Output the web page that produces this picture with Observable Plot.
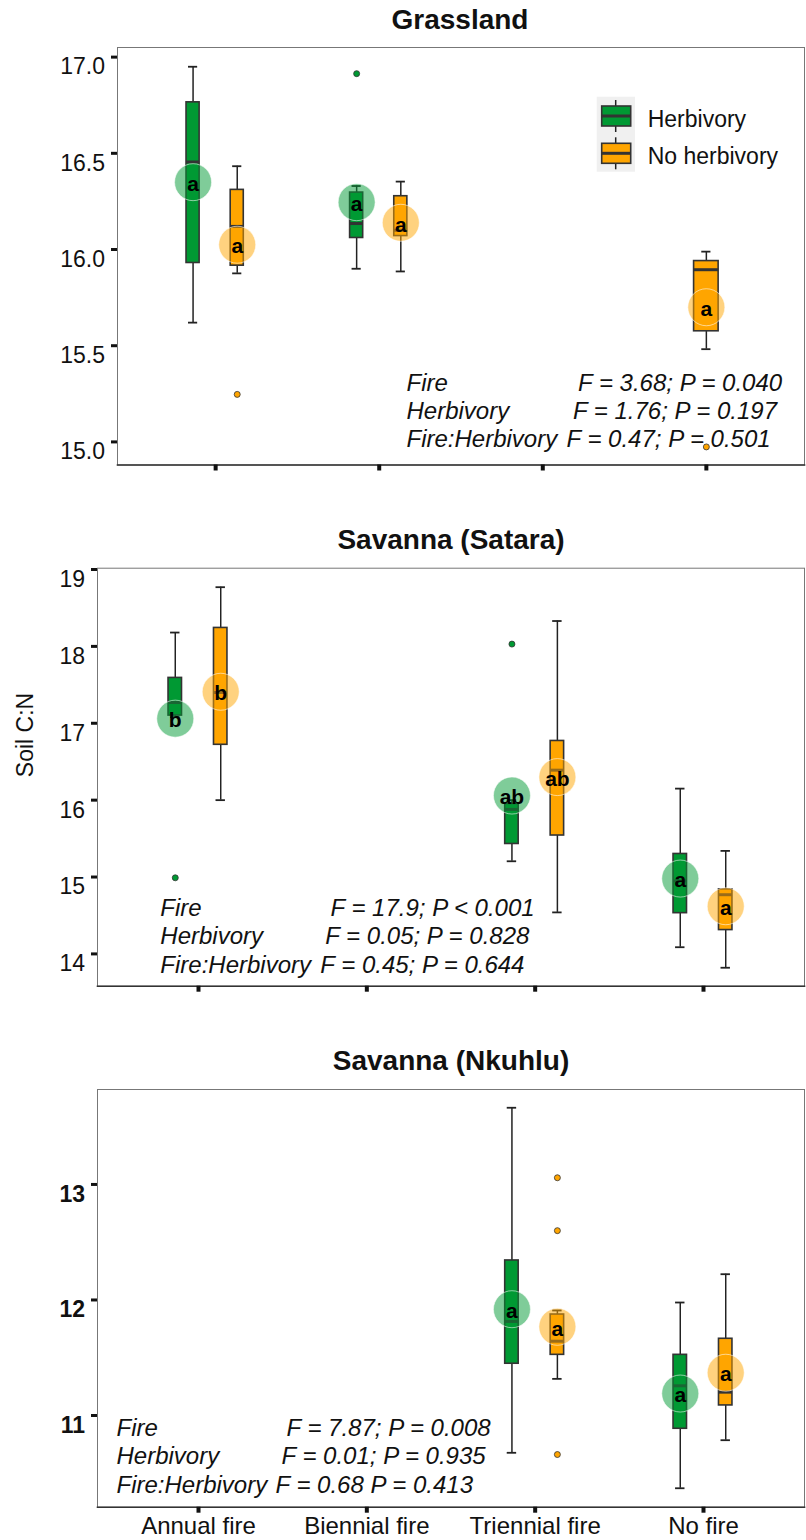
<!DOCTYPE html>
<html>
<head>
<meta charset="utf-8">
<script src="https://cdn.jsdelivr.net/npm/d3@7"></script>
<script src="https://cdn.jsdelivr.net/npm/@observablehq/plot@0.6"></script>
<style>
  html, body { margin: 0; padding: 0; background: #fff; }
  #page { position: relative; width: 806px; height: 1540px; overflow: hidden;
          font-family: "Liberation Sans", Arial, sans-serif; color: #111; }
  .panel { position: absolute; left: 0; }
  .title { position: absolute; transform: translateX(-50%); white-space: nowrap;
           font-size: 28px; line-height: 28px; font-weight: bold; color: #111; }
  #legend { position: absolute; left: 590px; top: 90px; }
</style>
</head>
<body>
<div id="page"></div>
<script>
// Treatment levels and fill colours
const fireLevels = ["Annual fire", "Biennial fire", "Triennial fire", "No fire"];
const herbLevels = ["Herbivory", "No herbivory"];
const herbColors = ["#009933", "#FFA500"];

// Box summaries: fire, herbivory, lower whisker, Q1, median, Q3, upper whisker, mean, letter
const grasslandBoxes = [
  ["Annual fire",   "Herbivory",    15.62, 15.93, 16.455, 16.765, 16.95, 16.35, "a"],
  ["Annual fire",   "No herbivory", 15.876, 15.916, 16.12, 16.31, 16.433, 16.025, "a"],
  ["Biennial fire", "Herbivory",    15.90, 16.06, 16.135, 16.296, 16.33, 16.246, "a"],
  ["Biennial fire", "No herbivory", 15.886, 16.07, 16.10, 16.277, 16.353, 16.139, "a"],
  ["No fire",       "No herbivory", 15.482, 15.575, 15.895, 15.94, 15.989, 15.70, "a"]
];
const grasslandOutliers = [
  ["Annual fire", "No herbivory", 15.247],
  ["Biennial fire", "Herbivory", 16.914],
  ["No fire", "No herbivory", 14.974]
];
const grasslandAnova = ["F = 3.68; P = 0.040", "F = 1.76; P = 0.197", "F = 0.47; P = 0.501"];

const sataraBoxes = [
  ["Annual fire",    "Herbivory",    17.08, 17.10, 17.27, 17.59, 18.18, 17.06, "b"],
  ["Annual fire",    "No herbivory", 16.0, 16.72, 17.40, 18.24, 18.77, 17.41, "b"],
  ["Triennial fire", "Herbivory",    15.205, 15.43, 15.88, 15.95, 16.0, 16.06, "ab"],
  ["Triennial fire", "No herbivory", 14.54, 15.54, 16.39, 16.77, 18.33, 16.30, "ab"],
  ["No fire",        "Herbivory",    14.087, 14.53, 14.95, 15.30, 16.15, 14.98, "a"],
  ["No fire",        "No herbivory", 13.82, 14.31, 14.77, 14.84, 15.34, 14.62, "a"]
];
const sataraOutliers = [
  ["Annual fire", "Herbivory", 14.99],
  ["Triennial fire", "Herbivory", 18.03]
];
const sataraAnova = ["F = 17.9; P < 0.001", "F = 0.05; P = 0.828", "F = 0.45; P = 0.644"];

const nkuhluBoxes = [
  ["Triennial fire", "Herbivory",    10.677, 11.448, 11.814, 12.342, 13.664, 11.92, "a"],
  ["Triennial fire", "No herbivory", 11.317, 11.525, 11.643, 11.874, 11.909, 11.768, "a"],
  ["No fire",        "Herbivory",    10.37, 10.885, 11.257, 11.525, 11.978, 11.19, "a"],
  ["No fire",        "No herbivory", 10.786, 11.087, 11.202, 11.664, 12.223, 11.37, "a"]
];
const nkuhluOutliers = [
  ["Triennial fire", "No herbivory", 13.058],
  ["Triennial fire", "No herbivory", 12.60],
  ["Triennial fire", "No herbivory", 10.662]
];
const nkuhluAnova = ["F = 7.87; P = 0.008", "F = 0.01; P = 0.935", "F = 0.68 P = 0.413"];

const anovaTerms = ["Fire", "Herbivory", "Fire:Herbivory"];

const grasslandTicks = [15.0, 15.5, 16.0, 16.5, 17.0];
const sataraTicks = [14, 15, 16, 17, 18, 19];
const nkuhluTicks = [11, 12, 13];

const FONT = "'Liberation Sans', Arial, sans-serif";
const INK = "#222";

// Position of a box within its fire level: dodged when both herbivory levels are present
function layoutBoxes(boxes) {
  const counts = d3.rollup(boxes, v => v.length, d => d[0]);
  return boxes.map(([fire, herb, low, q1, med, q3, high, mean, letter]) => {
    const n = counts.get(fire);
    const base = fireLevels.indexOf(fire) + 1;
    const shift = n === 1 ? 0 : (herb === herbLevels[0] ? -0.138 : 0.132);
    return {fire, herb, low, q1, med, q3, high, mean, letter,
            pos: base + shift, half: n === 1 ? 0.075 : 0.04};
  });
}
function layoutOutliers(outs, rows) {
  return outs.map(([fire, herb, value]) => {
    const r = rows.find(d => d.fire === fire && d.herb === herb);
    return {fire, herb, value, pos: r.pos};
  });
}

function panel(cfg) {
  const rows = layoutBoxes(cfg.boxes);
  const outs = layoutOutliers(cfg.outliers, rows);
  const cap = 0.028;
  const marks = [
    Plot.frame({stroke: "#777", strokeWidth: 1}),
    Plot.frame({anchor: "bottom", stroke: "#333", strokeWidth: 1.6}),
    // whiskers and caps
    Plot.ruleX(rows, {x: "pos", y1: "q3", y2: "high", stroke: INK, strokeWidth: 1.5}),
    Plot.ruleX(rows, {x: "pos", y1: "low", y2: "q1", stroke: INK, strokeWidth: 1.5}),
    Plot.ruleY(rows, {y: "high", x1: d => d.pos - cap, x2: d => d.pos + cap, stroke: INK, strokeWidth: 1.8}),
    Plot.ruleY(rows, {y: "low", x1: d => d.pos - cap, x2: d => d.pos + cap, stroke: INK, strokeWidth: 1.8}),
    // boxes and medians
    Plot.rect(rows, {x1: d => d.pos - d.half, x2: d => d.pos + d.half, y1: "q1", y2: "q3",
                     fill: "herb", stroke: "#333", strokeWidth: 1.6}),
    Plot.ruleY(rows, {y: "med", x1: d => d.pos - d.half, x2: d => d.pos + d.half, stroke: "#333", strokeWidth: 3}),
    // outliers
    Plot.dot(outs, {x: "pos", y: "value", r: 3, fill: "herb", stroke: "#333", strokeWidth: 0.8}),
    // group means with significance letters
    Plot.dot(rows, {x: "pos", y: "mean", r: 18.5, fill: "herb", fillOpacity: 0.5,
                    stroke: "white", strokeOpacity: 0.55, strokeWidth: 1}),
    Plot.text(rows, {x: "pos", y: "mean", text: "letter", fontSize: 21, fontWeight: "bold",
                     fill: "#000", dy: 2}),
    // axes
    Plot.axisY({ticks: cfg.yTicks, tickSize: 6, strokeWidth: 3, stroke: "#111", tickFormat: () => ""}),
    Plot.axisY({ticks: cfg.yTicks, tickSize: 0, tickPadding: 12.5, tickFormat: cfg.tickFormat,
                fontSize: 23, fontWeight: cfg.tickBold ? "bold" : "normal", fill: "#111", dy: 10}),
    Plot.axisX({ticks: [1, 2, 3, 4], tickSize: 6, strokeWidth: 4, stroke: "#111",
                tickPadding: 4, fontSize: 24, fill: "#111",
                tickFormat: cfg.xLabels ? (d => fireLevels[d - 1]) : (() => "")})
  ];
  // ANOVA summary
  anovaTerms.forEach((term, i) => {
    marks.push(Plot.text([term], {frameAnchor: "top-left", dx: cfg.anovaX, dy: cfg.anovaY + i * 28.4,
      textAnchor: "start", fontSize: 24, fontStyle: "italic", fill: "#111"}));
    marks.push(Plot.text([cfg.anova[i]], {frameAnchor: "top-left", dx: cfg.valueX[i], dy: cfg.anovaY + i * 28.4,
      textAnchor: "start", fontSize: 24, fontStyle: "italic", fill: "#111"}));
  });
  if (cfg.yLabel) {
    marks.push(Plot.text([cfg.yLabel], {frameAnchor: "left", dx: -72, rotate: -90, fontSize: 23, fill: "#111"}));
  }
  return Plot.plot({
    width: 806,
    height: cfg.height,
    marginTop: cfg.marginTop,
    marginBottom: cfg.marginBottom,
    marginLeft: cfg.marginLeft,
    marginRight: 2,
    style: {fontFamily: FONT, overflow: "visible", background: "transparent"},
    x: {type: "linear", domain: [0.4, 4.6], label: null},
    y: {domain: cfg.yDomain, label: null},
    color: {domain: herbLevels, range: herbColors},
    marks
  });
}

const page = document.getElementById("page");
function place(node, top) {
  const div = document.createElement("div");
  div.className = "panel";
  div.style.top = top + "px";
  div.appendChild(node);
  page.appendChild(div);
}
function title(text, cx, top) {
  const div = document.createElement("div");
  div.className = "title";
  div.style.left = cx + "px";
  div.style.top = top + "px";
  div.textContent = text;
  page.appendChild(div);
}

title("Grassland", 460, 5.6);
place(panel({
  boxes: grasslandBoxes, outliers: grasslandOutliers, anova: grasslandAnova,
  yTicks: grasslandTicks, tickFormat: d => d.toFixed(1), tickBold: false,
  yDomain: [14.88, 17.05], height: 445, marginTop: 7, marginBottom: 20.5, marginLeft: 117,
  anovaX: 289, anovaY: 326, valueX: [460.5, 455.4, 449], xLabels: false
}), 40);

title("Savanna (Satara)", 451, 525.6);
place(panel({
  boxes: sataraBoxes, outliers: sataraOutliers, anova: sataraAnova,
  yTicks: sataraTicks, tickFormat: d => String(d), tickBold: false,
  yDomain: [13.58, 19.017], height: 490, marginTop: 47.7, marginBottom: 24.3, marginLeft: 97,
  anovaX: 62.8, anovaY: 330.6, valueX: [233, 227.7, 222.8], xLabels: false, yLabel: "Soil C:N"
}), 520);

title("Savanna (Nkuhlu)", 451, 1047);
place(panel({
  boxes: nkuhluBoxes, outliers: nkuhluOutliers, anova: nkuhluAnova,
  yTicks: nkuhluTicks, tickFormat: d => String(d), tickBold: true,
  yDomain: [10.206, 13.822], height: 500, marginTop: 49, marginBottom: 33.3, marginLeft: 97,
  anovaX: 19, anovaY: 329.3, valueX: [189, 184, 178], xLabels: true
}), 1040);

// Legend for the herbivory treatment, drawn as small box-plot keys
const legend = d3.create("svg").attr("id", "legend").attr("width", 216).attr("height", 90)
  .style("font-family", FONT);
legend.append("rect").attr("x", 6.7).attr("y", 6.7).attr("width", 38.3).attr("height", 75).attr("fill", "#f0f0f0");
herbLevels.forEach((name, i) => {
  const y = 16 + i * 37.3;
  const g = legend.append("g");
  g.append("line").attr("x1", 25.7).attr("x2", 25.7).attr("y1", y - 6).attr("y2", y + 26)
    .attr("stroke", INK).attr("stroke-width", 1.5);
  g.append("rect").attr("x", 11.7).attr("y", y).attr("width", 29).attr("height", 20)
    .attr("fill", herbColors[i]).attr("stroke", "#333").attr("stroke-width", 1.6);
  g.append("line").attr("x1", 11.7).attr("x2", 40.7).attr("y1", y + 10).attr("y2", y + 10)
    .attr("stroke", "#333").attr("stroke-width", 3);
  g.append("text").attr("x", 57.7).attr("y", y + 20.7).attr("font-size", 23).attr("fill", "#111").text(name);
});
page.appendChild(legend.node());
</script>
</body>
</html>
